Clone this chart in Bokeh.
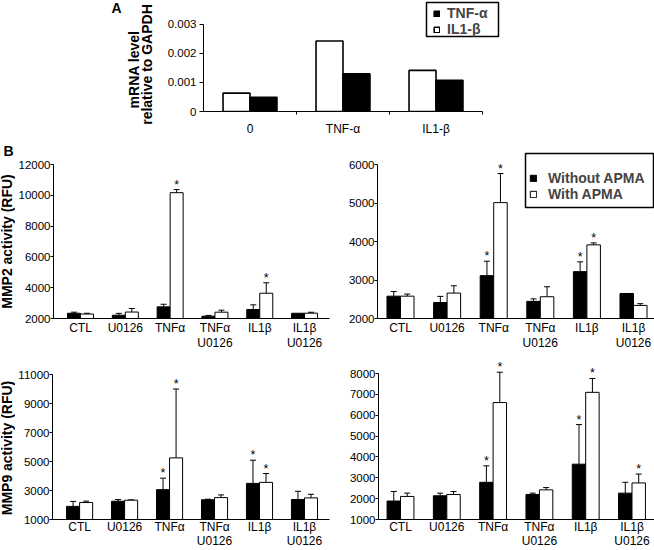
import math
from bokeh.plotting import figure
from bokeh.models import (Range1d, FixedTicker, ColumnDataSource, Whisker, TeeHead,
                          LabelSet, Label, Legend, LegendItem, BoxAnnotation)
from bokeh.layouts import column, row
from bokeh.core.properties import value
from bokeh.embed import file_html
from bokeh.resources import INLINE

FONT = "Liberation Sans"

# ---------------- Panel A data ----------------
a_categories = ["0", "TNF-α", "IL1-β"]
a_series = ["TNF-α", "IL1-β"]
a_tnf = [0.00049, 0.00129, 0.00107]
a_il1 = [0.00063, 0.00242, 0.00141]
a_yticks = [0, 0.001, 0.002, 0.003]
a_ytick_labels = ["0", "0.001", "0.002", "0.003"]

# ---------------- Panel B data ----------------
b_categories = ["CTL", "U0126", "TNFα", "TNFα\nU0126", "IL1β", "IL1β\nU0126"]
b_series = ["Without APMA", "With APMA"]

mmp2_no = [2340, 2215, 2755, 2150, 2585, 2340]
mmp2_no_sd = [70, 120, 170, 50, 300, 0]
mmp2_with = [2290, 2420, 10170, 2410, 3640, 2345]
mmp2_with_sd = [50, 230, 200, 130, 680, 60]
mmp2_no_star = ["", "", "", "", "", ""]
mmp2_with_star = ["", "", "*", "", "*", ""]
mmp2_yticks = [2000, 4000, 6000, 8000, 10000, 12000]

mmp2r_no = [2580, 2415, 3113, 2445, 3217, 2650]
mmp2r_no_sd = [120, 160, 375, 65, 255, 0]
mmp2r_with = [2580, 2660, 5010, 2565, 3913, 2340]
mmp2r_with_sd = [55, 190, 755, 260, 50, 45]
mmp2r_no_star = ["", "", "*", "", "*", ""]
mmp2r_with_star = ["", "", "*", "", "*", ""]
mmp2r_yticks = [2000, 3000, 4000, 5000, 6000]

mmp9_no = [1905, 2260, 3060, 2360, 3490, 2380]
mmp9_no_sd = [340, 115, 790, 40, 1600, 565]
mmp9_with = [2170, 2330, 5250, 2510, 3560, 2490]
mmp9_with_sd = [95, 25, 4750, 185, 610, 250]
mmp9_no_star = ["", "", "*", "", "*", ""]
mmp9_with_star = ["", "", "*", "", "*", ""]
mmp9_yticks = [1000, 3000, 5000, 7000, 9000, 11000]

mmp9r_no = [1885, 2138, 2785, 2201, 3654, 2265]
mmp9r_no_sd = [460, 125, 790, 65, 1900, 520]
mmp9r_with = [2106, 2201, 6610, 2422, 7100, 2754]
mmp9r_with_sd = [160, 140, 1455, 110, 665, 425]
mmp9r_no_star = ["", "", "*", "", "*", ""]
mmp9r_with_star = ["", "", "*", "", "*", "*"]
mmp9r_yticks = [1000, 2000, 3000, 4000, 5000, 6000, 7000, 8000]


# ---------------- helpers ----------------
def x_range_for(frame_left, frame_width, band_start, band):
    s = -0.5 + (frame_left - band_start) / band
    return (s, s + frame_width / band)


def y_range_for(frame_top, frame_bottom, v0, px0, v1, px1):
    ppu = (px0 - px1) / (v1 - v0)
    return (v0 - (frame_bottom - px0) / ppu, v0 + (px0 - frame_top) / ppu)


def base_style(p):
    p.frame_align = False
    p.grid.visible = False
    p.outline_line_color = None
    p.background_fill_color = "white"
    p.border_fill_color = "white"
    for ax in p.axis:
        ax.axis_line_color = "black"
        ax.axis_line_width = 1
        ax.major_tick_line_color = "black"
        ax.major_label_text_font = FONT
        ax.major_label_text_color = "black"


def strip(width, height):
    s = figure(width=width, height=height, x_range=Range1d(0, 1), y_range=Range1d(0, 1),
               output_backend="svg", toolbar_location=None,
               x_axis_location=None, y_axis_location=None,
               min_border_left=0, min_border_right=0, min_border_top=0, min_border_bottom=0)
    s.frame_align = False
    s.grid.visible = False
    s.outline_line_color = None
    s.background_fill_color = "white"
    s.border_fill_color = "white"
    return s


def add_errors(p, xs, vals, sds, stars):
    ex, lo, up = [], [], []
    for x, v, s in zip(xs, vals, sds):
        if s > 0:
            ex.append(x)
            lo.append(v)
            up.append(v + s)
    src = ColumnDataSource(dict(x=ex, lower=lo, upper=up))
    p.add_layout(Whisker(base="x", lower="lower", upper="upper", source=src,
                         dimension="height", line_color="black", line_width=1,
                         lower_head=None,
                         upper_head=TeeHead(size=6, line_color="black", line_width=1)))
    sx, sy, st = [], [], []
    for x, v, s, t in zip(xs, vals, sds, stars):
        if t:
            sx.append(x)
            sy.append(v + s)
            st.append(t)
    ssrc = ColumnDataSource(dict(x=sx, y=sy, t=st))
    p.add_layout(LabelSet(x="x", y="y", text="t", source=ssrc, text_align="center",
                          text_baseline="alphabetic", y_offset=1,
                          text_font=value(FONT), text_font_size="12.5px",
                          text_color="black"))


def bar_panel(width, height, borders, xr, yr, yticks, no_v, no_sd, w_v, w_sd, no_st, w_st,
              label_standoff=2, label_line_height=1.1):
    bl, br, bt, bb = borders
    p = figure(width=width, height=height, x_range=Range1d(*xr), y_range=Range1d(*yr),
               output_backend="svg", toolbar_location=None,
               min_border_left=bl, min_border_right=br,
               min_border_top=bt, min_border_bottom=bb)
    base_style(p)
    bw = 0.29
    idx = list(range(len(b_categories)))
    x_no = [i - bw / 2 for i in idx]
    x_w = [i + bw / 2 for i in idx]
    base = yticks[0]
    r_no = p.vbar(x=x_no, top=no_v, bottom=base, width=bw, fill_color="black",
                  line_color="black", line_width=1)
    r_w = p.vbar(x=x_w, top=w_v, bottom=base, width=bw, fill_color="white",
                 line_color="black", line_width=1)
    add_errors(p, x_no, no_v, no_sd, no_st)
    add_errors(p, x_w, w_v, w_sd, w_st)

    xa = p.xaxis[0]
    xa.ticker = FixedTicker(ticks=idx)
    xa.major_label_overrides = dict(zip(idx, b_categories))
    xa.major_tick_out = 0
    xa.major_tick_in = 0
    xa.minor_tick_line_color = None
    xa.major_label_text_font_size = "12px"
    xa.major_label_text_line_height = label_line_height
    xa.major_label_standoff = label_standoff

    ya = p.yaxis[0]
    ya.ticker = FixedTicker(ticks=yticks)
    ya.bounds = (yticks[0], yticks[-1])
    ya.major_tick_out = 3
    ya.major_tick_in = 0
    ya.minor_tick_line_color = None
    ya.major_label_text_font_size = "11.5px"
    ya.major_label_standoff = 0
    return p, r_no, r_w


def bold_label(fig, x, y, text, size, angle=0.0, align="center"):
    fig.add_layout(Label(x=x, y=y, x_units="screen", y_units="screen", text=text,
                         angle=angle, text_font=FONT, text_font_size=size,
                         text_font_style="bold", text_color="black",
                         text_align=align, text_baseline="middle"))


# ---------------- Row 1: panel A ----------------
ROW1_H = 138
stripA = strip(155, ROW1_H)
bold_label(stripA, 116, ROW1_H - 7, "A", "14px")
bold_label(stripA, 133, ROW1_H - 69, "mRNA level", "14px", angle=math.pi / 2)
bold_label(stripA, 146, ROW1_H - 64, "relative to GAPDH", "14px", angle=math.pi / 2)

pa_w = 499
pa_bl = 48
pa_frame_w = pa_w - pa_bl
pa = figure(width=pa_w, height=ROW1_H,
            x_range=Range1d(*x_range_for(203, pa_frame_w, 203, 93)),
            y_range=Range1d(*y_range_for(0, 113, 0, 113, 0.003, 24)),
            output_backend="svg", toolbar_location=None,
            min_border_left=pa_bl, min_border_right=0, min_border_top=0,
            min_border_bottom=ROW1_H - 113)
base_style(pa)
aw = 0.29
a_idx = list(range(len(a_categories)))
ra_il1 = pa.vbar(x=[i - aw / 2 for i in a_idx], top=a_il1, bottom=0, width=aw,
                 fill_color="white", line_color="black", line_width=1.6)
ra_tnf = pa.vbar(x=[i + aw / 2 for i in a_idx], top=a_tnf, bottom=0, width=aw,
                 fill_color="black", line_color="black", line_width=1.6)
xa = pa.xaxis[0]
xa.ticker = FixedTicker(ticks=a_idx, minor_ticks=[i + 0.5 for i in a_idx])
xa.bounds = (-0.5, len(a_categories) - 0.5)
xa.major_label_overrides = dict(zip(a_idx, a_categories))
xa.major_tick_out = 0
xa.major_tick_in = 0
xa.minor_tick_out = 3
xa.minor_tick_in = 0
xa.minor_tick_line_color = "black"
xa.major_label_text_font_size = "12px"
xa.major_label_standoff = 7
ya = pa.yaxis[0]
ya.ticker = FixedTicker(ticks=a_yticks)
ya.bounds = (a_yticks[0], a_yticks[-1])
ya.major_label_overrides = dict(zip(a_yticks, a_ytick_labels))
ya.major_tick_out = 4
ya.major_tick_in = 0
ya.minor_tick_line_color = None
ya.major_label_text_font_size = "11.5px"
ya.major_label_standoff = 3

# legend A (box in frame-relative screen units)
pa.add_layout(BoxAnnotation(left=426 - 203, right=498 - 203, bottom=113 - 38, top=113 - 4,
                            left_units="screen", right_units="screen",
                            top_units="screen", bottom_units="screen",
                            fill_color="white", fill_alpha=1, line_color="black",
                            line_alpha=1, line_width=1.5, line_dash="solid"))
leg_a = Legend(items=[LegendItem(label=a_series[0], renderers=[ra_tnf]),
                      LegendItem(label=a_series[1], renderers=[ra_il1])],
               location=(433 - 203, 113 - 39), orientation="vertical",
               glyph_width=7, glyph_height=7, label_standoff=7, label_width=20,
               label_height=15, padding=0, spacing=0, margin=0,
               label_text_font=FONT, label_text_font_size="14px",
               label_text_font_style="bold", border_line_color=None,
               background_fill_alpha=0)
pa.add_layout(leg_a)

# ---------------- Row 2: MMP2 ----------------
ROW2_TOP = 138
ROW2_H = 214
STRIP_W = 15
stripB = strip(STRIP_W, ROW2_H)
bold_label(stripB, 3, ROW2_TOP + ROW2_H - 150, "B", "14px", align="left")
bold_label(stripB, 6.5, ROW2_TOP + ROW2_H - 241, "MMP2 activity (RFU)", "14px",
           angle=math.pi / 2)

p1, _, _ = bar_panel(345 - STRIP_W, ROW2_H,
                     (50 - STRIP_W, 16, 164 - ROW2_TOP, ROW2_TOP + ROW2_H - 318),
                     x_range_for(50, 279, 54.65, 45.3),
                     y_range_for(164, 318, 2000, 318, 12000, 164), mmp2_yticks,
                     mmp2_no, mmp2_no_sd, mmp2_with, mmp2_with_sd,
                     mmp2_no_star, mmp2_with_star)
p2, r2_no, r2_w = bar_panel(309, ROW2_H, (32, 0, 150 - ROW2_TOP, ROW2_TOP + ROW2_H - 318),
                            x_range_for(377, 277, 376.7, 46.6),
                            y_range_for(150, 318, 2000, 318, 6000, 164), mmp2r_yticks,
                            mmp2r_no, mmp2r_no_sd, mmp2r_with, mmp2r_with_sd,
                            mmp2r_no_star, mmp2r_with_star)
p2.add_layout(BoxAnnotation(left=525 - 377, right=653 - 377, bottom=318 - 207, top=318 - 153,
                            left_units="screen", right_units="screen",
                            top_units="screen", bottom_units="screen",
                            fill_color="white", fill_alpha=1, line_color="black",
                            line_alpha=1, line_width=1.5, line_dash="solid"))
leg_b = Legend(items=[LegendItem(label=b_series[0], renderers=[r2_no]),
                      LegendItem(label=b_series[1], renderers=[r2_w])],
               location=(529 - 377, 318 - 202), orientation="vertical",
               glyph_width=8, glyph_height=8, label_standoff=11, label_width=20,
               label_height=16, padding=0, spacing=0, margin=0,
               label_text_font=FONT, label_text_font_size="14px",
               label_text_font_style="bold", border_line_color=None,
               background_fill_alpha=0)
p2.add_layout(leg_b)

# ---------------- Row 3: MMP9 ----------------
ROW3_TOP = ROW2_TOP + ROW2_H
ROW3_H = 550 - ROW3_TOP
stripC = strip(STRIP_W, ROW3_H)
bold_label(stripC, 6.5, ROW3_TOP + ROW3_H - 447.5, "MMP9 activity (RFU)", "14px",
           angle=math.pi / 2)

p3, _, _ = bar_panel(345 - STRIP_W, ROW3_H,
                     (50 - STRIP_W, 16, 374 - ROW3_TOP, ROW3_TOP + ROW3_H - 521),
                     x_range_for(50, 279, 54.65, 45.3),
                     y_range_for(374, 521, 1000, 521, 11000, 374), mmp9_yticks,
                     mmp9_no, mmp9_no_sd, mmp9_with, mmp9_with_sd,
                     mmp9_no_star, mmp9_with_star,
                     label_standoff=0, label_line_height=1.0)
p4, _, _ = bar_panel(309, ROW3_H, (33, 0, 355 - ROW3_TOP, ROW3_TOP + ROW3_H - 521),
                     x_range_for(378, 276, 376.85, 46.3),
                     y_range_for(355, 521, 1000, 521, 8000, 373.3), mmp9r_yticks,
                     mmp9r_no, mmp9r_no_sd, mmp9r_with, mmp9r_with_sd,
                     mmp9r_no_star, mmp9r_with_star,
                     label_standoff=0, label_line_height=1.0)

layout = column(row(stripA, pa), row(stripB, p1, p2), row(stripC, p3, p4))

with open("out.html", "w", encoding="utf-8") as f:
    f.write(file_html(layout, INLINE))
